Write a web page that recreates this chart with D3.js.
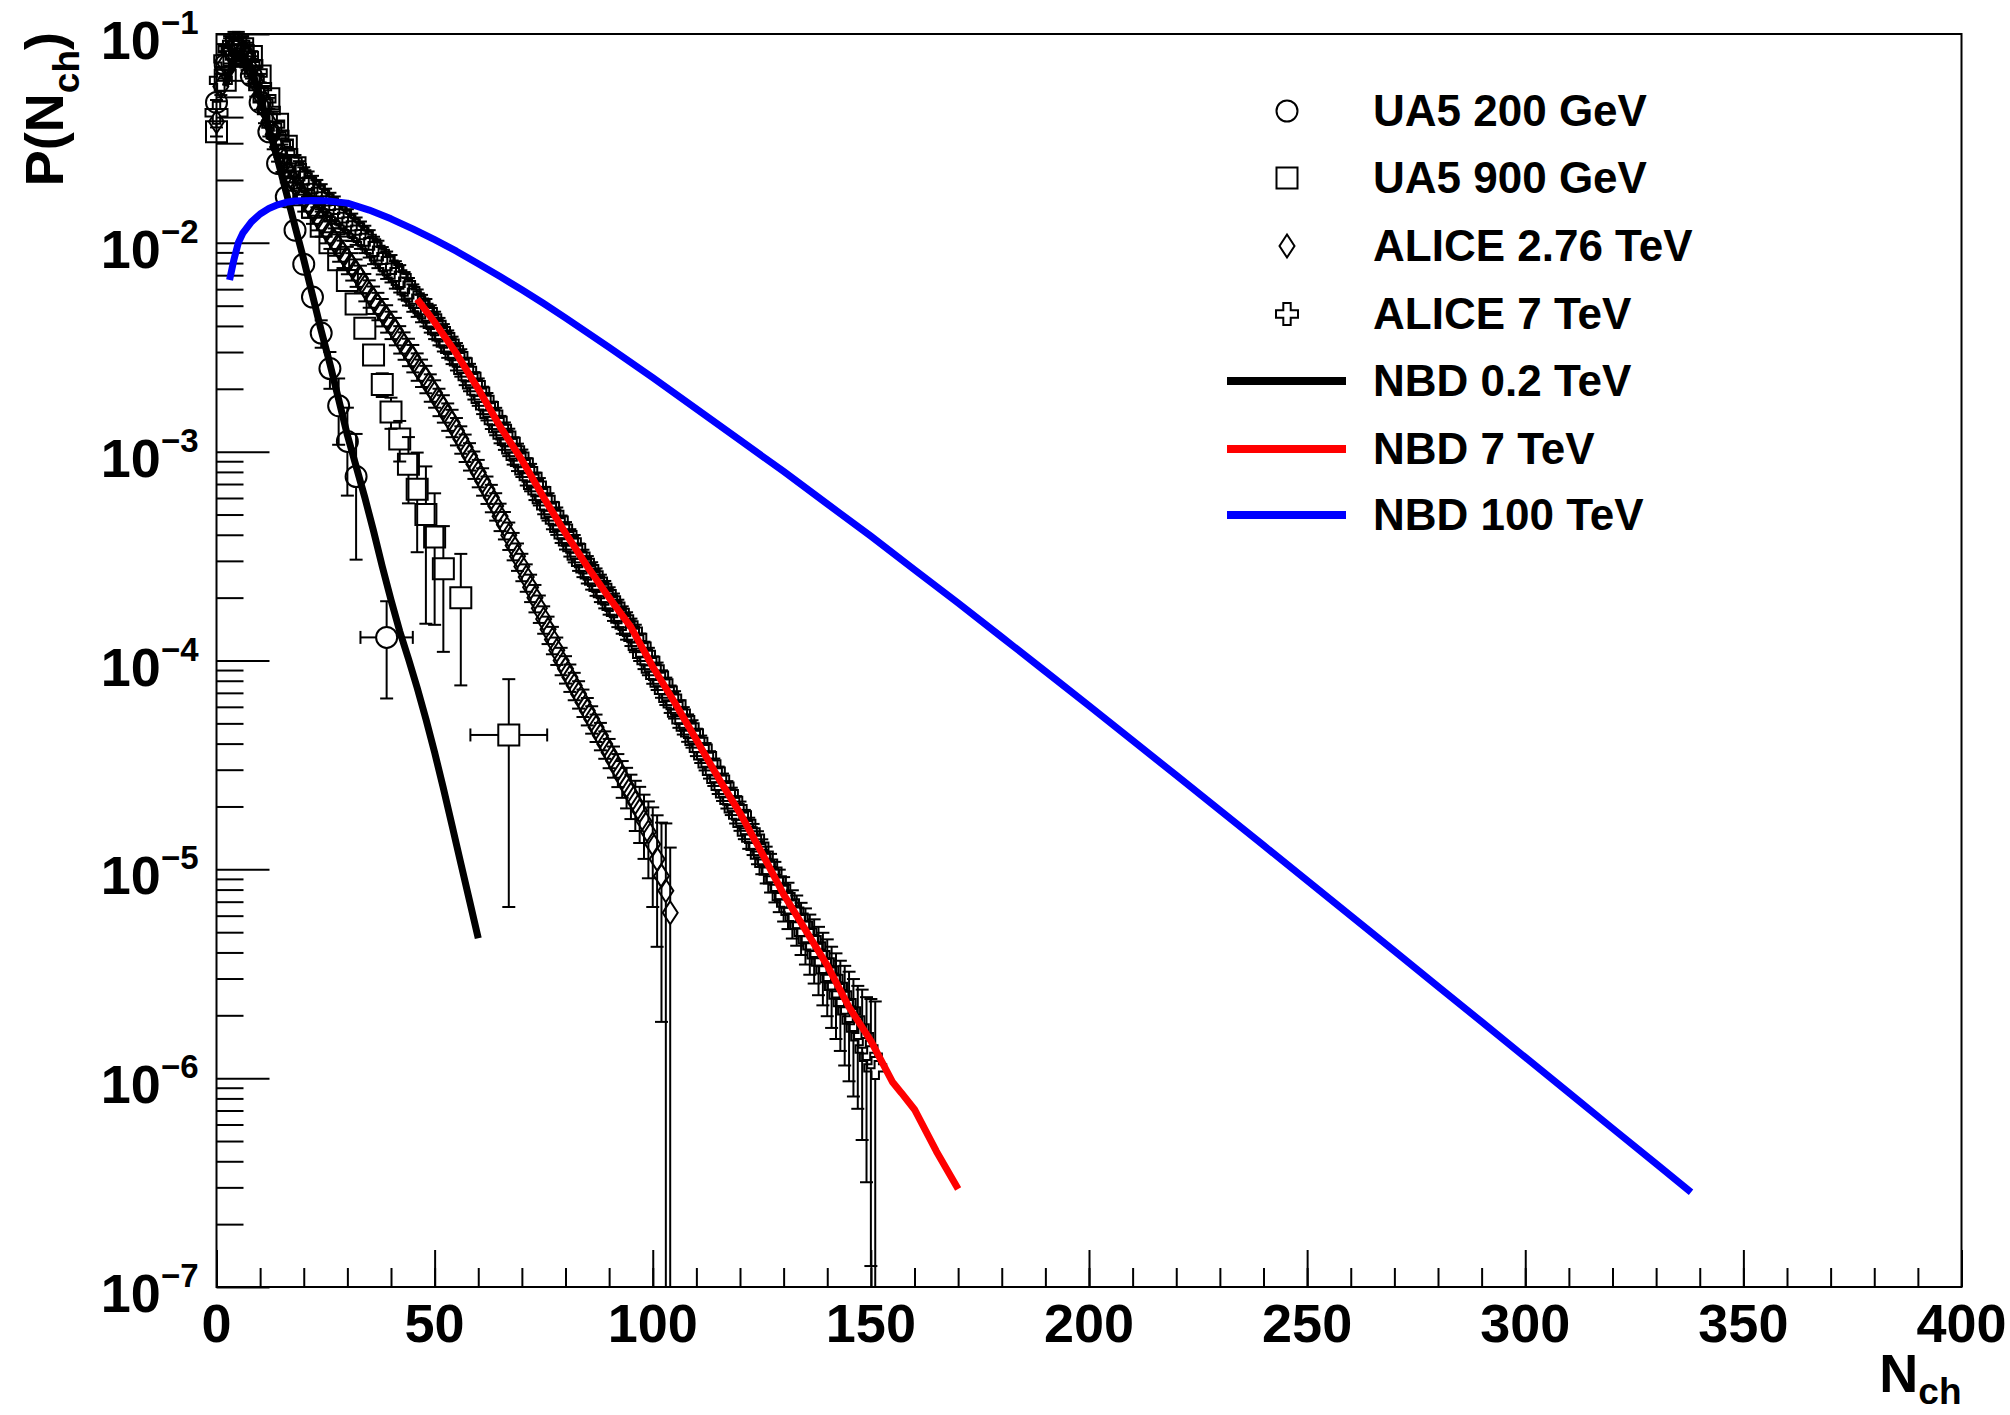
<!DOCTYPE html>
<html>
<head>
<meta charset="utf-8">
<script src="https://cdn.jsdelivr.net/npm/d3@7"></script>
<style>
  body { margin: 0; background: #fff; }
  text { font-family: "Liberation Sans", Arial, Helvetica, sans-serif; font-weight: bold; fill: #000; }
</style>
</head>
<body>
<svg width="2010" height="1415"></svg>
<script>
const svg = d3.select('svg');
const width = +svg.attr('width');
const height = +svg.attr('height');

// axis ticks
const xMajorTicks = [0, 50, 100, 150, 200, 250, 300, 350, 400];
const xMinorTicks = d3.range(0, 401, 10);
const yExponents = [-7, -6, -5, -4, -3, -2, -1];

// UA5 200 GeV (open circles)
const ua5200N = [0, 2, 4, 6, 8, 10, 12, 14, 16, 18, 20, 22, 24, 26, 28, 30, 32, 39];
const ua5200P = [0.047, 0.071, 0.083, 0.079, 0.063, 0.047, 0.034, 0.024, 0.0166, 0.0115,
  0.0079, 0.0055, 0.0037, 0.0025, 0.00166, 0.00112, 0.00076, 0.000129];
const ua5200RelErr = [0.05, 0.04, 0.04, 0.04, 0.04, 0.04, 0.05, 0.05, 0.06, 0.07,
  0.08, 0.10, 0.15, 0.20, 0.35, 0.45, 0.60, 0.49];
const ua5200XErr = [1, 1, 1, 1, 1, 1, 1, 1, 1, 1, 1, 1, 1, 1, 1, 1, 1, 6];

// UA5 900 GeV (open squares)
const ua5900N = [0, 2, 4, 6, 8, 10, 12, 14, 16, 18, 20, 22, 24, 26, 28, 30, 32, 34, 36, 38,
  40, 42, 44, 46, 48, 50, 52, 56, 67];
const ua5900P = [0.034, 0.060, 0.079, 0.085, 0.078, 0.063, 0.049, 0.037, 0.029, 0.0229,
  0.0182, 0.0148, 0.0120, 0.0100, 0.0083, 0.0066, 0.0051, 0.0039, 0.0029, 0.0021,
  0.00155, 0.00115, 0.00087, 0.00066, 0.00050, 0.00039, 0.000275, 0.00020, 0.000044];
const ua5900RelErr = [0.04, 0.04, 0.04, 0.04, 0.04, 0.04, 0.04, 0.04, 0.04, 0.04,
  0.04, 0.04, 0.04, 0.04, 0.04, 0.05, 0.06, 0.08, 0.10, 0.13,
  0.17, 0.22, 0.35, 0.50, 0.70, 0.62, 0.60, 0.62, 0.85];
const ua5900XErr = [1, 1, 1, 1, 1, 1, 1, 1, 1, 1, 1, 1, 1, 1, 1, 1, 1, 1, 1, 1,
  1, 1, 1, 1, 1, 1, 1, 1, 8.8];

// ALICE 2.76 TeV (open diamonds), N = 0 .. 104
const alice276P = [0.038, 0.056, 0.072, 0.083, 0.087, 0.087, 0.083, 0.076, 0.068, 0.059,
  0.051, 0.044, 0.038, 0.033, 0.0288, 0.0257, 0.0229, 0.0209, 0.0191, 0.0178,
  0.0166, 0.0155, 0.0145, 0.0135, 0.0126, 0.0117, 0.0110, 0.0102, 0.00955, 0.00891,
  0.00832, 0.00776, 0.00724, 0.00676, 0.00617, 0.00575, 0.00537, 0.00501, 0.00468, 0.00437,
  0.00407, 0.00380, 0.00347, 0.00324, 0.00302, 0.00282, 0.00257, 0.00240, 0.00224, 0.00204,
  0.00191, 0.00174, 0.00162, 0.00148, 0.00138, 0.00126, 0.00115, 0.00105, 9.55e-4, 8.71e-4,
  7.94e-4, 7.24e-4, 6.61e-4, 6.03e-4, 5.50e-4, 4.90e-4, 4.47e-4, 3.98e-4, 3.55e-4, 3.16e-4,
  2.82e-4, 2.51e-4, 2.24e-4, 2.00e-4, 1.78e-4, 1.58e-4, 1.41e-4, 1.26e-4, 1.12e-4, 1.00e-4,
  9.12e-5, 8.32e-5, 7.59e-5, 6.92e-5, 6.31e-5, 5.75e-5, 5.25e-5, 4.79e-5, 4.37e-5, 3.98e-5,
  3.63e-5, 3.31e-5, 3.02e-5, 2.75e-5, 2.51e-5, 2.29e-5, 2.09e-5, 1.91e-5, 1.70e-5, 1.51e-5,
  1.32e-5, 1.12e-5, 9.3e-6, 7.9e-6, 6.2e-6];
const alice276RelErr = [0.15, 0.15, 0.15, 0.15, 0.15, 0.15, 0.15, 0.15, 0.15, 0.15,
  0.15, 0.15, 0.15, 0.15, 0.15, 0.15, 0.15, 0.15, 0.15, 0.15,
  0.15, 0.15, 0.15, 0.15, 0.15, 0.15, 0.15, 0.15, 0.15, 0.15,
  0.15, 0.15, 0.15, 0.15, 0.15, 0.15, 0.15, 0.15, 0.15, 0.15,
  0.15, 0.15, 0.15, 0.15, 0.15, 0.15, 0.15, 0.15, 0.15, 0.15,
  0.15, 0.15, 0.15, 0.15, 0.15, 0.15, 0.15, 0.15, 0.15, 0.15,
  0.15, 0.15, 0.15, 0.15, 0.15, 0.15, 0.15, 0.15, 0.15, 0.15,
  0.15, 0.15, 0.15, 0.15, 0.15, 0.15, 0.15, 0.15, 0.15, 0.15,
  0.15, 0.15, 0.15, 0.15, 0.15, 0.15, 0.15, 0.15, 0.15, 0.15,
  0.16, 0.17, 0.18, 0.20, 0.22, 0.24, 0.27, 0.30, 0.34, 0.40,
  0.50, 0.62, 0.80, 1.10, 1.05];

// ALICE 7 TeV (open crosses), N = 0 .. 151
const alice7P = [0.042, 0.060, 0.076, 0.085, 0.089, 0.089, 0.085, 0.079, 0.072, 0.065,
  0.056, 0.049, 0.043, 0.037, 0.033, 0.030, 0.027, 0.0245, 0.0229, 0.0214,
  0.0200, 0.0191, 0.0182, 0.0174, 0.0166, 0.0158, 0.0151, 0.0145, 0.0138, 0.0132,
  0.0126, 0.0120, 0.0115, 0.0110, 0.0105, 0.0100, 0.0093, 0.0089, 0.0083, 0.0079,
  0.0076, 0.0071, 0.0068, 0.0063, 0.0059, 0.0055, 0.0052, 0.0049, 0.00468, 0.00437,
  0.00407, 0.00380, 0.00355, 0.00331, 0.00309, 0.00288, 0.00269, 0.00245, 0.00229, 0.00209,
  0.00195, 0.00178, 0.00166, 0.00151, 0.00141, 0.00129, 0.00120, 0.00112, 0.00102, 0.00095,
  0.00089, 0.00081, 0.00076, 0.00069, 0.00065, 0.00059, 0.00055, 0.00050, 0.00047, 0.00043,
  0.00040, 0.00037, 0.000347, 0.000316, 0.000295, 0.000275, 0.000257, 0.000240, 0.000224, 0.000209,
  0.000195, 0.000182, 0.000170, 0.000158, 0.000148, 0.000138, 0.000129, 0.000117, 0.000107, 0.000100,
  9.1e-5, 8.5e-5, 7.8e-5, 7.2e-5, 6.6e-5, 6.2e-5, 5.6e-5, 5.2e-5, 4.8e-5, 4.5e-5,
  4.1e-5, 3.8e-5, 3.5e-5, 3.2e-5, 2.95e-5, 2.7e-5, 2.5e-5, 2.3e-5, 2.14e-5, 1.95e-5,
  1.82e-5, 1.66e-5, 1.51e-5, 1.41e-5, 1.29e-5, 1.17e-5, 1.07e-5, 9.8e-6, 8.9e-6, 8.1e-6,
  7.4e-6, 6.9e-6, 6.3e-6, 5.9e-6, 5.4e-6, 5.0e-6, 4.6e-6, 4.3e-6, 3.9e-6, 3.6e-6,
  3.3e-6, 3.0e-6, 2.75e-6, 2.5e-6, 2.3e-6, 2.1e-6, 1.9e-6, 1.74e-6, 1.58e-6, 1.38e-6,
  1.26e-6, 1.12e-6];
const alice7RelErr = [0.15, 0.15, 0.15, 0.15, 0.15, 0.15, 0.15, 0.15, 0.15, 0.15,
  0.15, 0.15, 0.15, 0.15, 0.15, 0.15, 0.15, 0.15, 0.15, 0.15,
  0.15, 0.15, 0.15, 0.15, 0.15, 0.15, 0.15, 0.15, 0.15, 0.15,
  0.15, 0.15, 0.15, 0.15, 0.15, 0.15, 0.15, 0.15, 0.15, 0.15,
  0.15, 0.15, 0.15, 0.15, 0.15, 0.15, 0.15, 0.15, 0.15, 0.15,
  0.15, 0.15, 0.15, 0.15, 0.15, 0.15, 0.15, 0.15, 0.15, 0.15,
  0.15, 0.15, 0.15, 0.15, 0.15, 0.15, 0.15, 0.15, 0.15, 0.15,
  0.15, 0.15, 0.15, 0.15, 0.15, 0.15, 0.15, 0.15, 0.15, 0.15,
  0.15, 0.15, 0.15, 0.15, 0.15, 0.15, 0.15, 0.15, 0.15, 0.15,
  0.15, 0.15, 0.15, 0.15, 0.15, 0.15, 0.15, 0.15, 0.15, 0.15,
  0.15, 0.15, 0.15, 0.15, 0.15, 0.15, 0.15, 0.15, 0.15, 0.15,
  0.15, 0.15, 0.15, 0.15, 0.15, 0.15, 0.15, 0.15, 0.15, 0.15,
  0.16, 0.16, 0.17, 0.17, 0.18, 0.19, 0.20, 0.21, 0.22, 0.23,
  0.24, 0.25, 0.26, 0.27, 0.28, 0.30, 0.32, 0.34, 0.36, 0.38,
  0.40, 0.42, 0.44, 0.46, 0.50, 0.54, 0.57, 0.59, 0.68, 0.77,
  0.90, 1.08];

// NBD curves
const nbd02N = [2, 4, 6, 8, 10, 12, 14, 16, 18, 20, 22, 24, 26, 28, 30, 32, 34, 36, 38, 40,
  42, 44, 46, 48, 50, 52, 54, 56, 58, 60];
const nbd02P = [0.0562, 0.0759, 0.0794, 0.0676, 0.0501, 0.0355, 0.0251, 0.0174, 0.0120, 8.32e-3,
  5.62e-3, 3.80e-3, 2.63e-3, 1.78e-3, 1.20e-3, 8.51e-4, 6.03e-4, 4.17e-4, 2.82e-4, 1.95e-4,
  1.38e-4, 1.02e-4, 7.41e-5, 5.25e-5, 3.63e-5, 2.45e-5, 1.62e-5, 1.07e-5, 7.08e-6, 4.68e-6];

const nbd7N = [46, 50, 55, 60, 65, 70, 75, 80, 85, 90, 95, 100, 105, 110, 115, 120, 125, 130,
  135, 140, 145, 150, 155, 157, 160, 165, 170];
const nbd7P = [5.37e-3, 4.17e-3, 2.95e-3, 2.00e-3, 1.32e-3, 9.12e-4, 6.03e-4, 4.07e-4, 2.82e-4,
  2.00e-4, 1.445e-4, 9.33e-5, 6.31e-5, 4.17e-5, 2.75e-5, 1.86e-5, 1.20e-5, 7.59e-6,
  5.13e-6, 3.47e-6, 2.19e-6, 1.51e-6, 9.55e-7, 8.5e-7, 7.08e-7, 4.47e-7, 2.95e-7];

const nbd100N = [3, 4, 5, 6, 8, 10, 12, 14, 16, 18, 20, 22, 25, 30, 35, 40, 45, 50, 55, 60,
  65, 70, 75, 80, 90, 100, 110, 120, 130, 140, 150, 160, 170, 180, 190, 200, 210, 220, 230,
  240, 250, 260, 270, 280, 290, 300, 310, 320, 330, 338];
const nbd100P = [6.64e-3, 8.32e-3, 1.00e-2, 1.109e-2, 1.259e-2, 1.374e-2, 1.459e-2, 1.521e-2, 1.563e-2, 1.585e-2,
  1.592e-2, 1.596e-2, 1.592e-2, 1.549e-2, 1.435e-2, 1.303e-2, 1.167e-2, 1.035e-2, 9.12e-3, 7.94e-3,
  6.90e-3, 5.96e-3, 5.12e-3, 4.37e-3, 3.16e-3, 2.265e-3, 1.603e-3, 1.135e-3, 8.04e-4, 5.62e-4,
  3.94e-4, 2.72e-4, 1.884e-4, 1.294e-4, 8.87e-5, 6.07e-5, 4.14e-5, 2.82e-5, 1.919e-5,
  1.303e-5, 8.85e-6, 6.00e-6, 4.06e-6, 2.75e-6, 1.862e-6, 1.259e-6, 8.51e-7, 5.75e-7, 3.89e-7, 2.84e-7];

const legendLabels = ['UA5 200 GeV', 'UA5 900 GeV', 'ALICE 2.76 TeV', 'ALICE 7 TeV',
  'NBD 0.2 TeV', 'NBD 7 TeV', 'NBD 100 TeV'];

const margin = { top: 34, right: 48.5, bottom: 128, left: 216.5 };
const innerBottom = height - margin.bottom;

const xScale = d3.scaleLinear().domain([0, 400]).range([margin.left, width - margin.right]);
const yScale = d3.scaleLog().domain([1e-7, 1e-1]).range([innerBottom, margin.top]);

// marker shapes (ROOT-like open markers)
const markerSize = {
  circle: { hx: 10.5, hy: 10.5 },
  square: { hx: 10.5, hy: 10.5 },
  diamond: { hx: 7.5, hy: 11.5 },
  cross: { hx: 11, hy: 11 }
};
const markerPath = (type) => {
  if (type === 'circle') return 'M10.5,0A10.5,10.5 0 1,1 -10.5,0A10.5,10.5 0 1,1 10.5,0Z';
  if (type === 'square') return 'M-10.5,-10.5H10.5V10.5H-10.5Z';
  if (type === 'diamond') return 'M0,-11.5L7.5,0L0,11.5L-7.5,0Z';
  const a = 11, t = 3.7;
  return `M${-t},${-a}H${t}V${-t}H${a}V${t}H${t}V${a}H${-t}V${t}H${-a}V${-t}H${-t}Z`;
};

// error bars drawn outside the marker only, with end caps
const drawErrors = (g, ns, ps, rel, xerr, type) => {
  const { hx, hy } = markerSize[type];
  const cap = 6.5;
  ns.forEach((n, i) => {
    const cx = xScale(n), cy = yScale(ps[i]);
    const e = ps[i] * rel[i];
    const hiY = yScale(ps[i] + e);
    const lo = ps[i] - e;
    const loY = lo > 1e-7 ? yScale(lo) : innerBottom;
    if (cy - hiY > hy) {
      g.append('line').attr('x1', cx).attr('x2', cx).attr('y1', cy - hy).attr('y2', hiY);
      g.append('line').attr('x1', cx - cap).attr('x2', cx + cap).attr('y1', hiY).attr('y2', hiY);
    }
    if (loY - cy > hy) {
      g.append('line').attr('x1', cx).attr('x2', cx).attr('y1', cy + hy).attr('y2', loY);
      if (lo > 1e-7) g.append('line').attr('x1', cx - cap).attr('x2', cx + cap).attr('y1', loY).attr('y2', loY);
    }
    const xl = xScale(n - xerr[i]), xr = xScale(n + xerr[i]);
    if (cx - xl > hx) {
      g.append('line').attr('x1', xl).attr('x2', cx - hx).attr('y1', cy).attr('y2', cy);
      g.append('line').attr('x1', xl).attr('x2', xl).attr('y1', cy - cap).attr('y2', cy + cap);
      g.append('line').attr('x1', cx + hx).attr('x2', xr).attr('y1', cy).attr('y2', cy);
      g.append('line').attr('x1', xr).attr('x2', xr).attr('y1', cy - cap).attr('y2', cy + cap);
    }
  });
};

const drawMarkers = (g, ns, ps, type) => {
  g.selectAll(null).data(ns).enter().append('path')
    .attr('d', markerPath(type))
    .attr('transform', (d, i) => `translate(${xScale(d)},${yScale(ps[i])})`)
    .attr('fill', 'none').attr('stroke', '#000').attr('stroke-width', 2);
};

const render = () => {
  // axes ticks (inward, ROOT style)
  const xAxisG = svg.append('g').attr('transform', `translate(0,${innerBottom})`);
  xAxisG.call(d3.axisBottom(xScale).tickValues(xMinorTicks).tickSize(-19).tickFormat(''));
  xAxisG.append('g').call(d3.axisBottom(xScale).tickValues(xMajorTicks).tickSize(-37).tickFormat(''));
  xAxisG.selectAll('.domain').remove();
  xAxisG.selectAll('line').attr('stroke', '#000').attr('stroke-width', 2);

  const yMinor = yScale.ticks().filter(v => Math.abs(Math.log10(v) - Math.round(Math.log10(v))) > 1e-6);
  const yAxisG = svg.append('g').attr('transform', `translate(${margin.left},0)`);
  yAxisG.call(d3.axisLeft(yScale).tickValues(yMinor).tickSize(-27).tickFormat(''));
  yAxisG.append('g').call(d3.axisLeft(yScale).tickValues(yExponents.map(e => Math.pow(10, e))).tickSize(-53).tickFormat(''));
  yAxisG.selectAll('.domain').remove();
  yAxisG.selectAll('line').attr('stroke', '#000').attr('stroke-width', 2);

  // tick labels
  svg.append('g').selectAll('text').data(xMajorTicks).enter().append('text')
    .attr('x', d => xScale(d)).attr('y', innerBottom + 55)
    .attr('text-anchor', 'middle').style('font-size', '54px')
    .text(d => d);

  svg.append('g').selectAll('text').data(yExponents).enter().append('text')
    .attr('x', margin.left - 18).attr('y', d => yScale(Math.pow(10, d)) + 25)
    .attr('text-anchor', 'end').style('font-size', '54px')
    .each(function (d) {
      const t = d3.select(this);
      t.append('tspan').text('10');
      t.append('tspan').attr('dy', -25).style('font-size', '33px').text('\u2212' + (-d));
    });

  // axis titles
  const yTitle = svg.append('text').attr('transform', 'translate(63,32) rotate(-90)')
    .attr('text-anchor', 'end').style('font-size', '54px');
  yTitle.append('tspan').text('P(N');
  yTitle.append('tspan').attr('dy', 16).style('font-size', '37px').text('ch');
  yTitle.append('tspan').attr('dy', -16).text(')');

  const xTitle = svg.append('text').attr('x', xScale(400)).attr('y', 1392)
    .attr('text-anchor', 'end').style('font-size', '54px');
  xTitle.append('tspan').text('N');
  xTitle.append('tspan').attr('dy', 12).style('font-size', '37px').text('ch');

  // data with error bars
  const errG = svg.append('g').attr('stroke', '#000').attr('stroke-width', 2);
  const mkG = svg.append('g');
  const alice276N = alice276P.map((p, i) => i);
  const alice7N = alice7P.map((p, i) => i);
  const halfBin276 = alice276P.map(() => 0.5);
  const halfBin7 = alice7P.map(() => 0.5);

  drawErrors(errG, ua5200N, ua5200P, ua5200RelErr, ua5200XErr, 'circle');
  drawMarkers(mkG, ua5200N, ua5200P, 'circle');
  drawErrors(errG, ua5900N, ua5900P, ua5900RelErr, ua5900XErr, 'square');
  drawMarkers(mkG, ua5900N, ua5900P, 'square');
  drawErrors(errG, alice276N, alice276P, alice276RelErr, halfBin276, 'diamond');
  drawMarkers(mkG, alice276N, alice276P, 'diamond');
  drawErrors(errG, alice7N, alice7P, alice7RelErr, halfBin7, 'cross');
  drawMarkers(mkG, alice7N, alice7P, 'cross');

  // NBD curves
  const line = d3.line().x(d => xScale(d[0])).y(d => yScale(d[1]));
  const curves = [
    { n: nbd02N, p: nbd02P, color: '#000000' },
    { n: nbd7N, p: nbd7P, color: '#ff0000' },
    { n: nbd100N, p: nbd100P, color: '#0000ff' }
  ];
  curves.forEach(c => {
    svg.append('path').datum(c.n.map((n, i) => [n, c.p[i]]))
      .attr('d', line).attr('fill', 'none').attr('stroke', c.color)
      .attr('stroke-width', 7).attr('stroke-linejoin', 'round');
  });

  // frame
  svg.append('rect').attr('x', margin.left).attr('y', margin.top)
    .attr('width', xScale(400) - margin.left).attr('height', innerBottom - margin.top)
    .attr('fill', 'none').attr('stroke', '#000').attr('stroke-width', 2);

  // legend
  const legendY = [111, 178, 246, 314, 381, 449, 515];
  const legendKinds = ['circle', 'square', 'diamond', 'cross', '#000000', '#ff0000', '#0000ff'];
  const lg = svg.append('g');
  legendLabels.forEach((label, i) => {
    const kind = legendKinds[i];
    if (kind.startsWith('#')) {
      lg.append('line').attr('x1', 1227).attr('x2', 1346).attr('y1', legendY[i]).attr('y2', legendY[i])
        .attr('stroke', kind).attr('stroke-width', 8);
    } else {
      lg.append('path').attr('d', markerPath(kind)).attr('transform', `translate(1287,${legendY[i]})`)
        .attr('fill', 'none').attr('stroke', '#000').attr('stroke-width', 2);
    }
    lg.append('text').attr('x', 1373).attr('y', legendY[i] + 15).style('font-size', '44px').text(label);
  });
};

render();
</script>
</body>
</html>
